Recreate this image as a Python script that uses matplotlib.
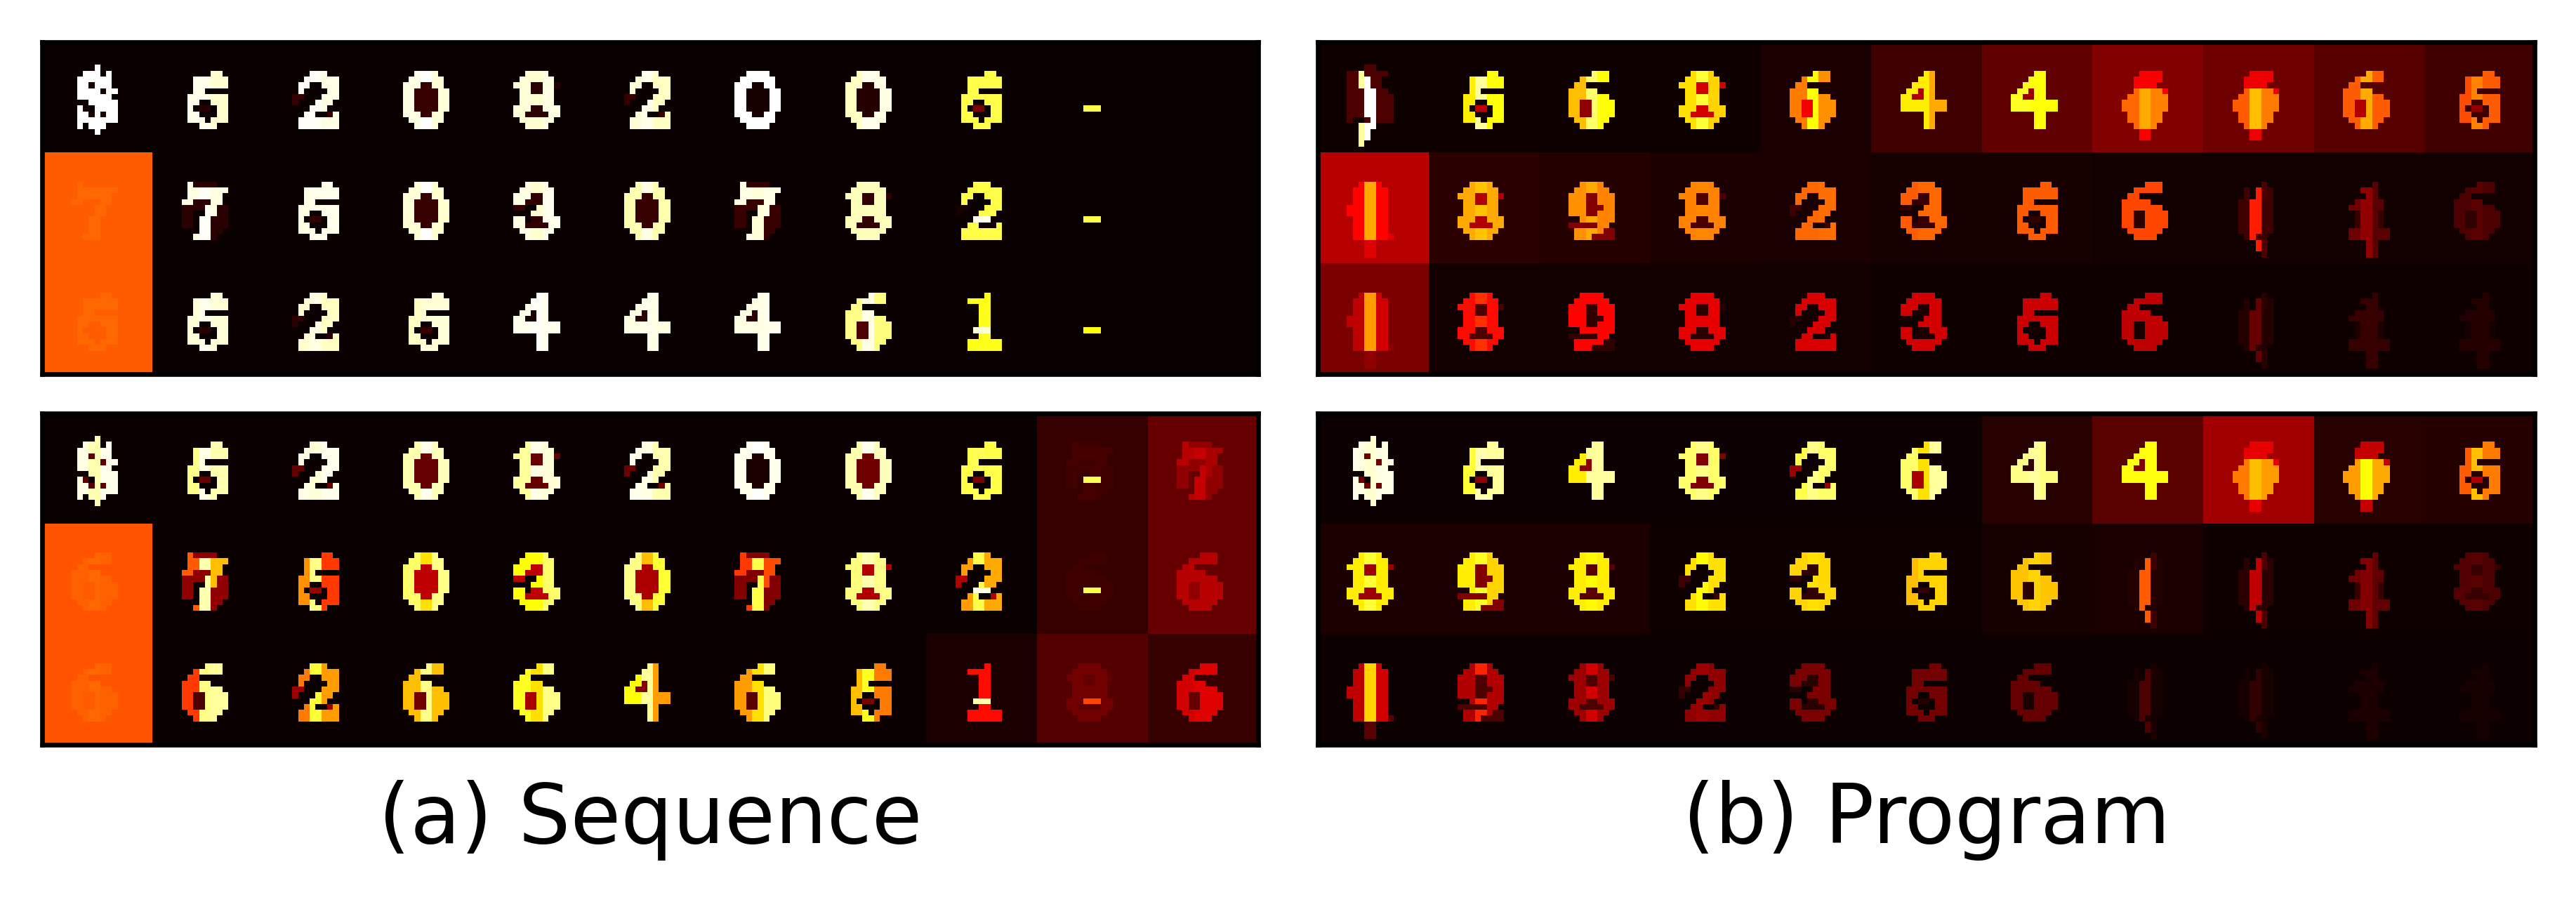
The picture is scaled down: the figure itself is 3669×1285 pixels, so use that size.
import numpy as np
import matplotlib
matplotlib.use("Agg")
import matplotlib.pyplot as plt

# ---- glyph bitmaps: X = stroke, o = counter / halo, . = background
GLYPHS = {
 '0': ["..XXXX..", ".XXXXXX.", "XXXooXX.", "XXooooXX", "XXooooXX", "XXooooXX", "XXooooXX", "XXXooXX.", ".XXXXXX.", "..XXXX.."],
 '1': [".....X..", "..XXXX..", "....XX..", "....XX..", "....XX..", "....XX..", "...oXX..", "....XX..", "..XXXXXX", "..XXXXXX"],
 '2': ["...XXX..", "..XXXXXX", ".XX..XXX", ".X....XX", "oo...XXX", "o...XXX.", "...XXX..", "..XX..oX", ".XXXXXXX", ".XXXXXXX"],
 '3': ["..XXXX..", ".XXXXXX.", "XXXooXX.", "XXoooXX.", "oo..XXX.", "...XXXX.", "XX.ooXXX", "XXooooXX", ".XXXXXX.", "..XXXX.."],
 '4': ["....XX..", "...XXX..", "..XXXX..", ".XXoXX..", "XXooXX..", "XXXXXXXX", "XXXXXXXX", "....XX..", "....XX..", "....XX.."],
 '5': [".....XX.", "..XXXXXX", "..XXXXXX", "..XX....", ".XXXXXXX", ".XX..XXX", ".X.oo.XX", ".XX...XX", ".XXX.XXX", "...XXX.."],
 '6': ["....XXX.", "..XXXXX.", ".XX.....", "XXXXX...", "XXXXXXX.", "XXooXXXX", "XXooXXXX", "XXooXXXX", ".XXXXXX.", "..XXXX.."],
 '7': [".Xoooo..", ".XXXXXXX", ".XXXXXX.", "XXoooXX.", "ooooXXoo", "oo..XXoo", "oo.XXooo", "oo.XXooo", "...XXoo.", "..XXXo.."],
 '8': ["..XXXX..", ".XXXXXX.", "XXXooXXo", ".XXooXX.", ".XXXXXX.", ".XXXXXX.", "XXXooXXX", "XXooooXX", ".XXXXXX.", "..XXXX.."],
 '9': ["..XXXX..", ".XXXXXX.", "XXXooXXX", "XXXooXXX", "XXXoooXX", "XXXooXXX", "..XXXXXX", "oooooXX.", ".XXXXXoo", ".XXXoooo"],
 'e': ["...oooo.", "..ooooo.", "..oooo..", "..XXXXXo", ".XXXXXXX", "XXXXXXXX", "XXXXXXXX", ".XXXXXX.", ".XXXXXX.", "..XXXX..", "...oo...", "...oo..."],
 't': [".....X..", "...XXX..", "....XX..", "..XXXXX.", ".XXXXXX.", "..oXXXo.", "..oXXXo.", "..oXXXo.", ".XXXXXXX", ".XXXXXXX", "....XX..", "....XX..", "....XX.."],
 'i': ["..XXXX..", ".XXXXXX.", ".XXXXXX.", ".XXXXXX.", "XXXXXXX.", "XXXXXXX.", ".XXXXXX.", ".XXXXXX.", ".XXXXXX.", ".XXXXXXo", "...oo...", "...oo...", "...oo..."],
 '(': [".....X..", "..o.XXo.", "..o.XXo.", ".ooXXoo.", ".ooXXoo.", ".ooXXoo.", ".ooXXoo.", ".ooXXoo.", ".ooXXoo.", "..oXoo..", "....XX..", "....XX..", ".....X.."],
 ')': ["...oo...", "ooXoooo.", "ooXXoo..", "ooXXoo..", "oooXXoo.", "oooXXooo", "oooXXooo", "oooXXooo", "oooXXooo", "o..oXooo", "..XXX...", "..XX....", "..XX....", "..X....."],
 '$': ["....X...", "..XXX.X.", ".XXXXXX.", ".XXoXXX.", ".XXXXoXX", ".XXXXXX.", "...XXXXX", ".Xo.XXXX", ".XXoXoXX", ".XXXXXXX", ".X.XXX..", "....X..."],
 '-': ["........", "........", "........", "........", "........", "........", "...XXX..", "........", "........", "........"],
 ' ': [],
}
GLYPH_TOP = {'$': 4, ')': 4}

# ---- (a) Sequence, top
A1_TEXT = ["$52082005- ", "775030782- ", "552544461- "]
A1_BG = [[0, 0, 0, 0, 0, 0, 0, 0, 0, 0, 0], [.5, 0, 0, 0, 0, 0, 0, 0, 0, 0, 0], [.5, 0, 0, 0, 0, 0, 0, 0, 0, 0, 0]]
A1_LEFT = [[1, .98, .99, .97, .96, .96, 1, .94, .82, .82, 0], [.52, .97, .97, .96, .97, .92, .97, .93, .82, .82, 0], [.52, .96, .95, .94, .98, .97, .97, .88, .77, .76, 0]]
A1_CENTRE = [[1, .98, .99, 1, .95, .98, 1, .98, .82, .82, 0], [.52, .99, .98, 1, .95, .97, .96, .93, .82, .82, 0], [.52, .98, .97, .96, .99, .98, .97, .97, .77, .76, 0]]
A1_RIGHT = [[1, .95, .97, .96, .97, .94, 1, .97, .82, .82, 0], [.52, .97, .98, .95, .98, .92, .97, .93, .82, .82, 0], [.52, .96, .94, .96, .98, .97, .98, .87, .77, .76, 0]]
A1_HOLE = [[.02, .04, .07, .07, .05, .07, .02, .04, .17, 0, 0], [.5, .05, .06, .07, .06, .07, .07, .06, .02, 0, 0], [.5, .04, .05, .07, .02, .05, .05, .1, .25, 0, 0]]
A1_DASH = [[0]*11, [0]*8 + [.98, 0, 0], [0]*8 + [.96, 0, 0]]

# ---- (a) Sequence, bottom
A2_TEXT = ["$5208200577", "67503078266", "66266465186"]
A2_BG = [[0, 0, 0, 0, 0, 0, 0, 0, 0, .07, .14], [.49, 0, 0, 0, 0, 0, 0, 0, 0, .07, .14], [.49, 0, 0, 0, 0, 0, 0, 0, .025, .11, .07]]
A2_LEFT = [[.97, .88, .97, .92, .9, .98, .98, .92, .82, .09, .26], [.51, .5, .58, .85, .75, .88, .45, .87, .6, .08, .26], [.51, .45, .55, .65, .78, .75, .6, .65, .38, .16, .3]]
A2_CENTRE = [[.92, .97, .96, .98, .97, .97, 1, .98, .83, .09, .28], [.52, .92, .88, .7, .75, .65, .82, .92, .82, .08, .26], [.52, .88, .8, .88, .7, .9, .7, .78, .38, .16, .32]]
A2_RIGHT = [[.98, .92, .98, .93, .96, .92, .98, .93, .82, .09, .24], [.51, .65, .45, .88, .85, .8, .48, .88, .62, .08, .26], [.51, .9, .6, .65, .88, .6, .87, .55, .38, .16, .32]]
A2_HOLE = [[.12, .14, .14, .14, .14, .15, .03, .15, .17, .08, .2], [.5, .2, .22, .27, .27, .24, .18, .25, .25, .075, .2], [.5, .1, .22, .16, .24, .18, .12, .17, .03, .13, .14]]
A2_DASH = [[0]*9 + [.83, 0], [0]*8 + [.97, .82, 0], [0]*8 + [.92, .47, 0]]

# ---- (b) Program, top
B1_TEXT = [")568644ee65", "i8982356(t6", "i8982356(tt"]
B1_BG = [[.01, .01, .01, .01, .025, .08, .13, .18, .15, .115, .08], [.26, .05, .04, .03, .025, .02, .02, .015, .015, .015, .015], [.17, .012, .012, .012, .012, .01, .01, .01, .01, .01, .01]]
B1_LEFT = [[.9, .72, .65, .7, .55, .72, .78, .52, .5, .5, .48], [.37, .62, .58, .56, .52, .5, .5, .47, .09, .15, .1], [.27, .38, .37, .33, .31, .3, .29, .27, .04, .07, .04]]
B1_CENTRE = [[1, .9, .85, .8, .75, .72, .76, .62, .65, .62, .56], [.62, .66, .62, .57, .52, .52, .5, .47, .41, .2, .12], [.6, .44, .37, .33, .31, .3, .29, .27, .14, .07, .04]]
B1_RIGHT = [[.85, .75, .75, .68, .58, .62, .75, .56, .55, .5, .5], [.37, .62, .56, .56, .53, .52, .5, .47, .1, .12, .1], [.3, .38, .37, .33, .31, .3, .29, .27, .05, .07, .04]]
B1_HOLE = [[.1, .27, .2, .3, .35, .25, .22, .36, .34, .25, .2], [.32, .25, .18, .1, .08, .07, .06, .05, .08, .07, .06], [.2, .1, .06, .05, .04, .03, .02, .02, .04, .03, .02]]
B1_DASH = [[0]*11, [0]*11, [0]*11]

# ---- (b) Program, bottom
B2_TEXT = ["$5482644ee5", "8982356((t8", "i982356((tt"]
B2_BG = [[.005, .005, .005, .005, .005, .005, .045, .12, .23, .045, .04], [.03, .03, .03, .01, .01, .01, .02, .025, .01, .01, .01], [.005, .005, .005, .005, .005, .005, .005, .005, .005, .005, .005]]
B2_LEFT = [[.97, .8, .72, .85, .82, .85, .88, .76, .55, .6, .5], [.72, .72, .72, .7, .68, .65, .66, .05, .08, .15, .11], [.27, .25, .22, .2, .17, .16, .14, .03, .03, .03, .02]]
B2_CENTRE = [[.95, .92, .9, .88, .88, .7, .9, .76, .65, .75, .65], [.8, .78, .74, .74, .7, .68, .68, .5, .27, .18, .12], [.68, .42, .3, .22, .17, .16, .14, .1, .06, .03, .02]]
B2_RIGHT = [[.97, .9, .9, .85, .85, .9, .87, .76, .6, .62, .55], [.72, .68, .72, .7, .69, .68, .66, .08, .1, .13, .1], [.3, .25, .22, .2, .17, .16, .14, .03, .03, .03, .02]]
B2_HOLE = [[.15, .2, .2, .18, .22, .24, .06, .18, .33, .28, .25], [.22, .18, .12, .08, .06, .06, .05, .04, .05, .07, .07], [.12, .1, .1, .07, .05, .04, .03, .02, .02, .01, .01]]
B2_DASH = [[0]*11, [0]*11, [0]*11]

XLABELS = ["(a) Sequence", "(b) Program"]
CELL = 19
GLYPH_LEFT = 5
DIGIT_TOP = 5


def build(text, bg, left, centre, right, hole, dash):
    img = np.zeros((3*CELL, 11*CELL))
    for r in range(3):
        for c in range(11):
            y0, x0 = r*CELL, c*CELL
            img[y0:y0+CELL, x0:x0+CELL] = bg[r][c]
            ch = text[r][c]
            top = GLYPH_TOP.get(ch, DIGIT_TOP)
            for i, row in enumerate(GLYPHS[ch]):
                for j, s in enumerate(row):
                    yy, xx = y0+top+i, x0+GLYPH_LEFT+j
                    if s == 'X':
                        img[yy, xx] = left[r][c] if j < 3 else (centre[r][c] if j < 5 else right[r][c])
                    elif s == 'o':
                        img[yy, xx] = hole[r][c]
            if dash[r][c]:
                img[y0+DIGIT_TOP+6, x0+GLYPH_LEFT+3:x0+GLYPH_LEFT+6] = dash[r][c]
    return img


W, H = 3670, 1285
fig = plt.figure(figsize=(W/600, H/600), dpi=600)
PANELS = [
    ((60.3, 59.5, 1792, 532.5), (A1_TEXT, A1_BG, A1_LEFT, A1_CENTRE, A1_RIGHT, A1_HOLE, A1_DASH), None),
    ((1877.3, 59.5, 3610.3, 532.5), (B1_TEXT, B1_BG, B1_LEFT, B1_CENTRE, B1_RIGHT, B1_HOLE, B1_DASH), None),
    ((60.3, 589, 1792, 1061.4), (A2_TEXT, A2_BG, A2_LEFT, A2_CENTRE, A2_RIGHT, A2_HOLE, A2_DASH), XLABELS[0]),
    ((1877.3, 589, 3610.3, 1061.4), (B2_TEXT, B2_BG, B2_LEFT, B2_CENTRE, B2_RIGHT, B2_HOLE, B2_DASH), XLABELS[1]),
]
for (x0, y0, x1, y1), tables, label in PANELS:
    ax = fig.add_axes([x0/W, 1-y1/H, (x1-x0)/W, (y1-y0)/H])
    ax.imshow(build(*tables), cmap='hot', vmin=0, vmax=1, interpolation='nearest', aspect='auto')
    ax.set_xticks([])
    ax.set_yticks([])
    if label:
        ax.set_xlabel(label, fontsize=14, labelpad=6)
fig.savefig("out.png", dpi=600, facecolor='white')
